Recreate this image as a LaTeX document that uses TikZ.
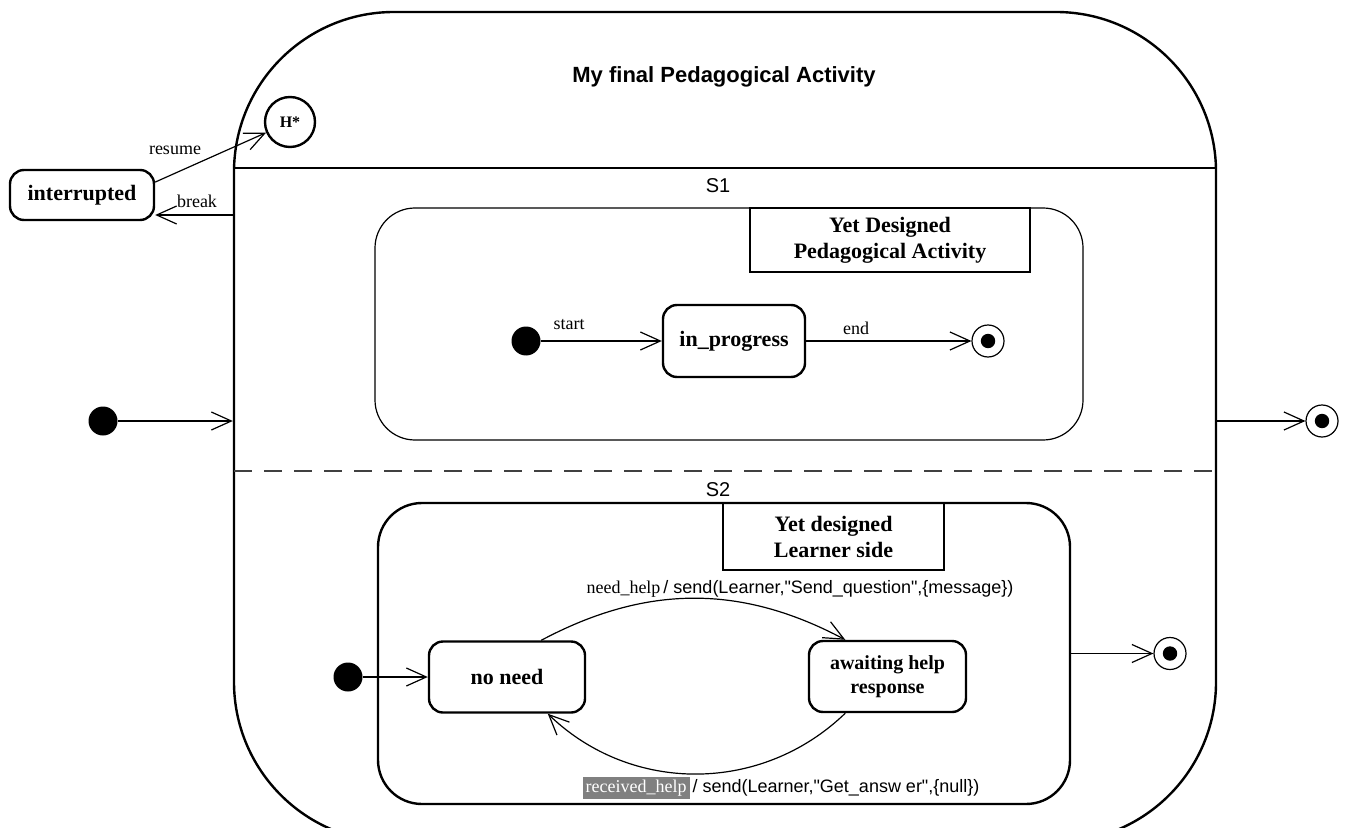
\documentclass[tikz,border=0pt]{standalone}
\usepackage{fontspec}
\setmainfont{Liberation Serif}
\setsansfont{Liberation Sans}[Ligatures=TeXOff]
\usetikzlibrary{arrows.meta}
\setlength{\fboxsep}{1.5pt}

\tikzset{
  state/.style={draw, line width=1.2pt, rounded corners=7pt, align=center, inner sep=2pt, font=\bfseries\fontsize{11}{13}\selectfont},
  initial/.style={circle, fill, inner sep=0pt, minimum size=14.5pt},
  final/.style={circle, draw, line width=0.6pt, inner sep=0pt, minimum size=16pt, path picture={\fill (path picture bounding box.center) circle (3.6pt);}},
  trans/.style={line width=0.6pt, -{Straight Barb[length=10pt,width=9pt]}},
  lbl/.style={font=\fontsize{9}{11}\selectfont, inner sep=1pt},
  region/.style={font=\sffamily\fontsize{10}{12}\selectfont},
  titlebox/.style={draw, align=center, inner sep=2pt, font=\bfseries\fontsize{11}{13}\selectfont},
}

\begin{document}
\begin{tikzpicture}[x=0.5pt, y=-0.5pt]
   \useasboundingbox (0,0) rectangle (1352,828);

   \node (activity) at (725,427) [draw, line width=1.2pt, rounded corners=80pt, minimum width=491pt, minimum height=415pt] {};
   \node (title) at (724,77) [font=\sffamily\bfseries\fontsize{11}{13}\selectfont] {My final Pedagogical Activity};
   \node (hist) at (290,122) [circle, draw, line width=1.2pt, minimum size=25pt, inner sep=0pt, font=\bfseries\fontsize{8}{9}\selectfont] {H*};
   \draw [line width=0.6pt] (234,168) -- (1216,168);
   \draw [line width=0.6pt, black!75, dash pattern=on 9pt off 6pt] (234,471) -- (1216,471);
   \node (S1) at (718,186) [region] {S1};
   \node (S2) at (718,490) [region] {S2};

   \node (interrupted) at (82,195) [state, minimum width=72pt, minimum height=25pt] {interrupted};
   \node (init0) at (103,421) [initial] {};
   \node (final0) at (1322,421) [final] {};
   \coordinate (breakfrom) at (234,215);

   \node (s1box) at (729,324) [draw, line width=0.6pt, rounded corners=20pt, minimum width=354pt, minimum height=116pt] {};
   \node (s1title) at (890,240) [titlebox, line width=0.8pt, minimum width=140pt, minimum height=32pt] {Yet Designed\\Pedagogical Activity};
   \node (init1) at (526,341) [initial] {};
   \node (progress) at (734,341) [state, minimum width=71pt, minimum height=36pt] {in\_progress};
   \node (final1) at (988,341) [final] {};

   \node (s2box) at (724,653.5) [draw, line width=1.2pt, rounded corners=22pt, minimum width=346pt, minimum height=150.5pt] {};
   \node (s2title) at (833.5,536.5) [titlebox, line width=1.2pt, minimum width=110.5pt, minimum height=33.5pt] {Yet designed\\Learner side};
   \node (init2) at (348,677) [initial] {};
   \node (noneed) at (507,677) [state, minimum width=78pt, minimum height=35.5pt] {no need};
   \node (awaiting) at (887.5,676.5) [state, minimum width=78.5pt, minimum height=35.5pt, font=\bfseries\fontsize{10}{12}\selectfont] {awaiting help\\response};
   \node (final2) at (1170,653.5) [final] {};

   \node (resumelbl) at (175,150) [lbl] {resume};
   \node (breaklbl) at (197,201) [lbl] {break};
   \node (startlbl) at (569,325) [lbl] {start};
   \node (endlbl) at (856,328) [lbl] {end};
   \node (needlbl) at (800,589) [lbl] {need\_help{\sffamily\,/ send(Learner,"Send\_question",\{message\})}};
   \node (recvlbl) at (781,788) [lbl] {\colorbox{gray}{\color{white}received\_help}{\sffamily\,/ send(Learner,"Get\_answ er",\{null\})}};

   \draw [trans] (init0) -- (activity.west |- init0);
   \draw [trans] (activity.east |- final0) -- (final0);
   \draw [trans] (interrupted.10) -- (hist);
   \draw [trans] (breakfrom) -- (interrupted.east |- breakfrom);

   \draw [trans] (init1) -- (progress);
   \draw [trans] (progress) -- (final1);

   \draw [trans] (init2) -- (noneed);
   \draw [trans] (noneed.47) to [out=28, in=152] (awaiting.139);
   \draw [trans] (awaiting.221) to [out=-136, in=-44] (noneed.-42);
   \draw [trans] (s2box.east) -- (final2);

\end{tikzpicture}
\end{document}
